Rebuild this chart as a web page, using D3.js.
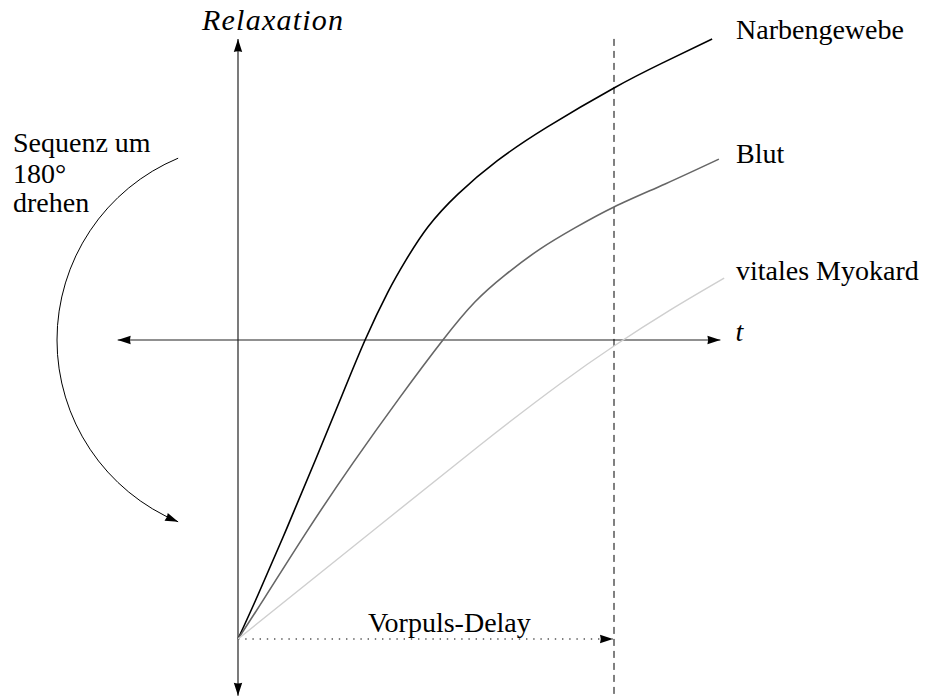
<!DOCTYPE html>
<html>
<head>
<meta charset="utf-8">
<script src="https://cdn.jsdelivr.net/npm/d3@7/dist/d3.min.js"></script>
<style>
	body { margin: 0; background: #fff; }
	text { font-family: 'Liberation Serif', 'Times New Roman', serif; fill: #000; }
</style>
</head>
<body>
<div id="app"></div>
<script>
'use strict'

// time t (1 = Vorpuls-Delay) and relaxation (-1 .. 1)
const narbengewebe = [
	[0, -1], [0.053, -0.853], [0.130, -0.629], [0.207, -0.398], [0.277, -0.184],
	[0.338, 0], [0.399, 0.161], [0.447, 0.268], [0.505, 0.378], [0.585, 0.488],
	[0.689, 0.599], [0.822, 0.712], [1, 0.843], [1.128, 0.926], [1.261, 1.007]
]
const blut = [
	[0, -1], [0.072, -0.86], [0.186, -0.635], [0.306, -0.411], [0.431, -0.191],
	[0.545, 0], [0.630, 0.127], [0.710, 0.217], [0.803, 0.304], [0.896, 0.375],
	[1, 0.445], [1.136, 0.522], [1.279, 0.605]
]
const myokard = [
	[0, -1], [0.324, -0.673], [0.644, -0.351], [0.856, -0.147],
	[1, -0.020], [1.149, 0.100], [1.293, 0.207]
]
const seriesNames = ['Narbengewebe', 'Blut', 'vitales Myokard']
const seriesColors = ['#000', '#666', '#cfcfcf']

const delay = 1
const tAxis = [-0.32, 1.283]
const rAxis = [-1.19, 1.007]

const main = () => {
	const width = 930
	const height = 696

	const x = d3.scaleLinear().domain([0, 1]).range([238, 614])
	const y = d3.scaleLinear().domain([-1, 1]).range([639, 41])

	const svg = d3.select('#app').append('svg')
		.attr('width', width)
		.attr('height', height)

	// latex-like arrow head
	svg.append('defs').append('marker')
		.attr('id', 'head')
		.attr('markerUnits', 'userSpaceOnUse')
		.attr('viewBox', '-14 -6 15 12')
		.attr('refX', 0)
		.attr('refY', 0)
		.attr('markerWidth', 15)
		.attr('markerHeight', 12)
		.attr('orient', 'auto')
		.append('path')
		.attr('d', 'M0,0 L-13,-4.2 Q-11.5,0 -13,4.2 Z')
		.attr('fill', '#000')

	const line = d3.line()
		.x(d => x(d[0]))
		.y(d => y(d[1]))
		.curve(d3.curveNatural)

	/*
	 * Axes
	 */
	const axisEnds = [
		[tAxis[1], 0], [tAxis[0], 0], [0, rAxis[1]], [0, rAxis[0]]
	]
	svg.selectAll('.axis')
		.data(axisEnds)
		.enter().append('line')
		.attr('class', 'axis')
		.attr('x1', x(0)).attr('y1', y(0))
		.attr('x2', d => x(d[0])).attr('y2', d => y(d[1]))
		.attr('stroke', '#222').attr('stroke-width', 1.2)
		.attr('marker-end', 'url(#head)')

	svg.append('text')
		.attr('x', 202)
		.attr('y', 30)
		.attr('textLength', 141)
		.attr('lengthAdjust', 'spacing')
		.style('font-size', '30px')
		.style('font-style', 'italic')
		.text('Relaxation')

	svg.append('text')
		.attr('x', x(tAxis[1]) + 15)
		.attr('y', y(0) + 1)
		.style('font-size', '28px')
		.style('font-style', 'italic')
		.text('t')

	/*
	 * Delay marker
	 */
	svg.append('line')
		.attr('x1', x(delay)).attr('y1', y(rAxis[1]))
		.attr('x2', x(delay)).attr('y2', height)
		.attr('stroke', '#000').attr('stroke-width', 1)
		.attr('stroke-dasharray', '7,5')

	svg.append('line')
		.attr('x1', x(0)).attr('y1', y(-1))
		.attr('x2', x(delay) - 1).attr('y2', y(-1))
		.attr('stroke', '#000').attr('stroke-width', 1.2)
		.attr('stroke-dasharray', '1.4,5.8')
		.attr('marker-end', 'url(#head)')

	svg.append('text')
		.attr('x', 368)
		.attr('y', 632)
		.style('font-size', '28px')
		.text('Vorpuls-Delay')

	/*
	 * Relaxation curves
	 */
	const series = [narbengewebe, blut, myokard]

	svg.selectAll('.curve')
		.data(series)
		.enter().append('path')
		.attr('class', 'curve')
		.attr('d', line)
		.attr('fill', 'none')
		.attr('stroke', (d, i) => seriesColors[i])
		.attr('stroke-width', (d, i) => i === 2 ? 1.4 : 1.6)

	svg.selectAll('.label')
		.data(series)
		.enter().append('text')
		.attr('class', 'label')
		.attr('x', 736)
		.attr('y', (d, i) => y(d[d.length - 1][1]) + [0, 4, 2][i])
		.style('font-size', '28px')
		.text((d, i) => seriesNames[i])

	/*
	 * Rotation arrow
	 */
	const cx = x(0) + 16
	const cy = y(0)
	const a = 1.966
	const arc = d3.path()
	arc.arc(cx, cy, 197, -a, a, true)

	svg.append('path')
		.attr('d', arc.toString())
		.attr('fill', 'none')
		.attr('stroke', '#000')
		.attr('stroke-width', 1)
		.attr('marker-end', 'url(#head)')

	const note = svg.append('text')
		.attr('x', 13)
		.attr('y', 152)
		.style('font-size', '28px')
	note.append('tspan').attr('x', 13).text('Sequenz um')
	note.append('tspan').attr('x', 13).attr('dy', 31).text('180°')
	note.append('tspan').attr('x', 13).attr('dy', 29).text('drehen')
}

main()
</script>
</body>
</html>
